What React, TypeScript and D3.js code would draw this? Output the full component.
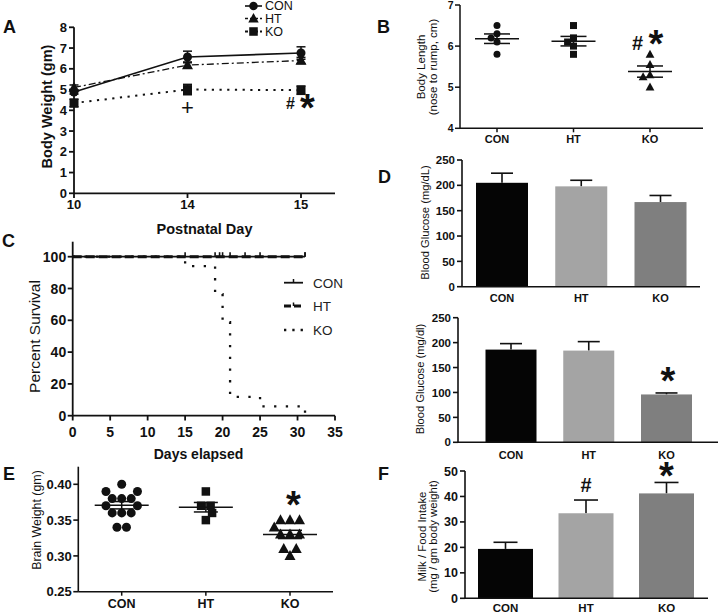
import React from "react";
import * as d3 from "d3";

const FONT = "'Liberation Sans', Arial, Helvetica, sans-serif";
const INK = "#111";

// ---------- Panel A : body weight ----------
const daysA = ["10", "14", "15"];
const conWeight = [4.88, 6.57, 6.76];
const conWeightErr = [0.1, 0.28, 0.3];
const htWeight = [5.1, 6.18, 6.4];
const htWeightErr = [0.12, 0.15, 0.15];
const koWeight = [4.35, 5.0, 4.97];
const koWeightErr = [0.18, 0.25, 0.2];
const weightTicks = [0, 1, 2, 3, 4, 5, 6, 7, 8];

// ---------- Panel B : body length ----------
const groups = ["CON", "HT", "KO"];
const conLength = [6.5, 6.3, 5.8, 6.2, 6.1];
const htLength = [6.5, 5.8, 6.2, 6.1, 6.0];
const koLength = [5.8, 5.0, 5.55, 5.3, 5.25];
const lengthTicks = [4, 5, 6, 7];

// ---------- Panel C : survival ----------
const survivalTicksX = [0, 5, 10, 15, 20, 25, 30, 35];
const survivalTicksY = [0, 20, 40, 60, 80, 100];
const conSurvival: [number, number][] = [[0, 100], [31, 100]];
const htSurvival: [number, number][] = [[0, 100], [31, 100]];
const koSurvival: [number, number][] = [[0, 100], [15, 94.1], [19, 76.5], [20, 58.8], [21, 11.8], [25, 5.9], [31, 0]];
const conCensor = [15, 19, 20, 21, 25, 31];
const htCensor = [19.6, 23, 31];

// ---------- Panel D : blood glucose ----------
const glucoseTicks = [0, 50, 100, 150, 200, 250];
const glucoseA = [205, 198, 167];
const glucoseAErr = [19, 12, 13];
const glucoseB = [186, 184, 96];
const glucoseBErr = [12, 18, 3];

// ---------- Panel E : brain weight ----------
const brainTicks = [0.25, 0.3, 0.35, 0.4];
const conBrain = [0.4, 0.38, 0.38, 0.38, 0.36, 0.36, 0.36, 0.34, 0.34, 0.39, 0.39, 0.37, 0.37];
const htBrain = [0.39, 0.37, 0.37, 0.36, 0.35];
const koBrain = [0.35, 0.35, 0.35, 0.33, 0.33, 0.33, 0.3, 0.31, 0.31, 0.34];

// ---------- Panel F : intake ----------
const intakeTicks = [0, 10, 20, 30, 40, 50];
const intake = [19.4, 33.4, 41.2];
const intakeErr = [2.6, 5.2, 4.3];

const barColors = ["#050505", "#a4a4a4", "#7f7f7f"];

// ---------- helpers ----------
function swarm(values: number[], y: (v: number) => number, D: number): number[] {
  const placed: { x: number; y: number }[] = [];
  const out: number[] = [];
  values.forEach((v) => {
    const yy = y(v);
    const cands = [0];
    placed.forEach((p) => {
      const dy = Math.abs(p.y - yy);
      if (dy < D) {
        const dx = Math.sqrt(D * D - dy * dy);
        cands.push(p.x - dx, p.x + dx);
      }
    });
    const ok = cands.filter((c) => placed.every((p) => Math.hypot(p.x - c, p.y - yy) >= D - 1e-6));
    ok.sort((a, b) => Math.abs(a) - Math.abs(b) || a - b);
    const x = ok[0];
    placed.push({ x, y: yy });
    out.push(x);
  });
  const rows = d3.group(values.map((v, i) => i), (i) => values[i]);
  rows.forEach((idx) => {
    if (idx.length > 1) {
      const m = d3.mean(idx, (i) => out[i]) as number;
      idx.forEach((i) => (out[i] -= m));
    }
  });
  return out;
}

function Marker({ shape, x, y, s }: { shape: string; x: number; y: number; s: number }) {
  if (shape === "circle") return <circle cx={x} cy={y} r={s / 2} fill={INK} />;
  if (shape === "square") return <rect x={x - s / 2} y={y - s / 2} width={s} height={s} fill={INK} />;
  return (
    <path
      d={`M${x},${y - s * 0.58}L${x + s * 0.55},${y + s * 0.42}L${x - s * 0.55},${y + s * 0.42}Z`}
      fill={INK}
    />
  );
}

function Sig({ x, cy, ch, size }: { x: number; cy: number; ch: string; size: number }) {
  const off = ch === "*" ? 0.45 : ch === "#" ? 0.35 : 0.36;
  return (
    <text x={x} y={cy + off * size} textAnchor="middle" fontSize={size} fontWeight={ch === "+" ? 400 : 700} fill={INK}>
      {ch}
    </text>
  );
}

function YAxis({
  x, y, ticks, fmt, yTop, fs, fw = 700, tick = 5, gap = 2, sw = 1.6,
}: {
  x: number; y: d3.ScaleLinear<number, number>; ticks: number[]; fmt?: (v: number) => string;
  yTop?: number; fs: number; fw?: number; tick?: number; gap?: number; sw?: number;
}) {
  const [b, t] = y.range();
  return (
    <g>
      <line x1={x} x2={x} y1={yTop ?? t} y2={b} stroke={INK} strokeWidth={sw} />
      {ticks.map((v) => (
        <g key={v}>
          <line x1={x - tick} x2={x} y1={y(v)} y2={y(v)} stroke={INK} strokeWidth={sw} />
          <text x={x - tick - gap} y={y(v) + fs * 0.36} textAnchor="end" fontSize={fs} fontWeight={fw} fill={INK}>
            {fmt ? fmt(v) : v}
          </text>
        </g>
      ))}
    </g>
  );
}

function YTitle({ x, y, lines, fs, fw = 400, lh }: { x: number; y: number; lines: string[]; fs: number; fw?: number; lh?: number }) {
  return (
    <text transform={`translate(${x},${y}) rotate(-90)`} textAnchor="middle" fontSize={fs} fontWeight={fw} fill={INK}>
      {lines.map((l, i) => (
        <tspan key={i} x={0} y={(i - (lines.length - 1) / 2) * (lh ?? fs * 1.1) + fs * 0.35}>
          {l}
        </tspan>
      ))}
    </text>
  );
}

function BarPanel({
  y, centers, values, errs, barW, x0, x1, ticks, tfs, labelY, lfs, capW,
}: {
  y: d3.ScaleLinear<number, number>; centers: d3.ScalePoint<string>; values: number[]; errs: number[];
  barW: number; x0: number; x1: number; ticks: number[]; tfs: number; labelY: number; lfs: number; capW: number;
}) {
  const base = y.range()[0];
  return (
    <g>
      {groups.map((g, i) => {
        const cx = centers(g) as number;
        return (
          <g key={g}>
            <line x1={cx} x2={cx} y1={y(values[i])} y2={y(values[i] + errs[i])} stroke={INK} strokeWidth={1.6} />
            <line x1={cx - capW / 2} x2={cx + capW / 2} y1={y(values[i] + errs[i])} y2={y(values[i] + errs[i])} stroke={INK} strokeWidth={1.6} />
            <rect x={cx - barW / 2} y={y(values[i])} width={barW} height={base - y(values[i])} fill={barColors[i]} />
            <text x={cx} y={labelY} textAnchor="middle" fontSize={lfs} fontWeight={700} fill={INK}>{g}</text>
          </g>
        );
      })}
      <YAxis x={x0} y={y} ticks={ticks} fs={tfs} />
      <line x1={x0} x2={x1} y1={base} y2={base} stroke={INK} strokeWidth={1.6} />
    </g>
  );
}

function ScatterPanel({
  y, centers, data, shapes, D, ms, meanW, semW, x0, x1, labelY, lfs,
}: {
  y: d3.ScaleLinear<number, number>; centers: d3.ScalePoint<string>; data: number[][]; shapes: string[];
  D: number; ms: number[]; meanW: number; semW: number; x0: number; x1: number; labelY: number; lfs: number;
}) {
  const base = y.range()[0];
  return (
    <g>
      {groups.map((g, i) => {
        const cx = centers(g) as number;
        const vals = data[i];
        const offs = swarm(vals, y, D);
        const m = d3.mean(vals) as number;
        const sem = (d3.deviation(vals) as number) / Math.sqrt(vals.length);
        return (
          <g key={g}>
            {vals.map((v, j) => (
              <Marker key={j} shape={shapes[i]} x={cx + offs[j]} y={y(v)} s={ms[i]} />
            ))}
            <line x1={cx - meanW} x2={cx + meanW} y1={y(m)} y2={y(m)} stroke={INK} strokeWidth={1.5} />
            <line x1={cx - semW} x2={cx + semW} y1={y(m + sem)} y2={y(m + sem)} stroke={INK} strokeWidth={1.5} />
            <line x1={cx - semW} x2={cx + semW} y1={y(m - sem)} y2={y(m - sem)} stroke={INK} strokeWidth={1.5} />
            <line x1={cx} x2={cx} y1={y(m + sem)} y2={y(m - sem)} stroke={INK} strokeWidth={1.5} />
            <line x1={cx} x2={cx} y1={base} y2={base + 4} stroke={INK} strokeWidth={1.5} />
            <text x={cx} y={labelY} textAnchor="middle" fontSize={lfs} fontWeight={700} fill={INK}>{g}</text>
          </g>
        );
      })}
      <line x1={x0} x2={x1} y1={base} y2={base} stroke={INK} strokeWidth={1.6} />
    </g>
  );
}

export default function App() {
  const xA = d3.scalePoint<string>().domain(daysA).range([74, 301]);
  const yA = d3.scaleLinear().domain([0, 8]).range([193.3, 27.3]);
  const seriesA = [
    { name: "CON", vals: conWeight, errs: conWeightErr, shape: "circle", s: 9, dash: undefined as string | undefined, w: 1.6 },
    { name: "HT", vals: htWeight, errs: htWeightErr, shape: "triangle", s: 10, dash: "7,3,2,3", w: 1.3 },
    { name: "KO", vals: koWeight, errs: koWeightErr, shape: "square", s: 9, dash: "2.2,5.5", w: 2 },
  ];
  const lineA = d3.line<number>().x((_, i) => xA(daysA[i]) as number).y((d) => yA(d));
  const legendA = [6, 18.5, 31.5];

  const xB = d3.scalePoint<string>().domain(groups).range([497, 650]);
  const yB = d3.scaleLinear().domain([4, 7]).range([128.3, 5]);

  const xC = d3.scaleLinear().domain([0, 35]).range([72.7, 335]);
  const yC = d3.scaleLinear().domain([0, 100]).range([415.7, 256.7]);
  const stepLine = d3.line<[number, number]>().x((d) => xC(d[0])).y((d) => yC(d[1])).curve(d3.curveStepAfter);

  const xD = d3.scalePoint<string>().domain(groups).range([502, 660.5]);
  const yD = d3.scaleLinear().domain([0, 250]).range([286.7, 160]);
  const xD2 = d3.scalePoint<string>().domain(groups).range([511, 666.5]);
  const yD2 = d3.scaleLinear().domain([0, 250]).range([442.3, 317.7]);

  const xE = d3.scalePoint<string>().domain(groups).range([121.7, 290]);
  const yE = d3.scaleLinear().domain([0.25, 0.4]).range([591.7, 484.3]);

  const xF = d3.scalePoint<string>().domain(groups).range([505.5, 666.5]);
  const yF = d3.scaleLinear().domain([0, 50]).range([598.3, 471]);

  return (
    <div style={{ position: "absolute", left: 0, top: 0, width: 720, height: 614, background: "#fff" }}>
      <svg width={720} height={614} style={{ display: "block", fontFamily: FONT }}>
        <rect width={720} height={614} fill="#fff" />

        {[
          ["A", 3, 33], ["B", 377, 33], ["C", 2, 247], ["D", 378, 183], ["E", 3, 480], ["F", 378, 480],
        ].map(([t, x, y]) => (
          <text key={t as string} x={x as number} y={y as number} fontSize={18} fontWeight={700} fill={INK}>{t}</text>
        ))}

        {/* ===== Panel A ===== */}
        <g>
          {seriesA.map((s) => (
            <g key={s.name}>
              <path d={lineA(s.vals) as string} fill="none" stroke={INK} strokeWidth={s.w} strokeDasharray={s.dash} />
              {s.vals.map((v, i) => {
                const cx = xA(daysA[i]) as number;
                return (
                  <g key={i}>
                    <line x1={cx} x2={cx} y1={yA(v - s.errs[i])} y2={yA(v + s.errs[i])} stroke={INK} strokeWidth={1.5} />
                    <line x1={cx - 4.5} x2={cx + 4.5} y1={yA(v + s.errs[i])} y2={yA(v + s.errs[i])} stroke={INK} strokeWidth={1.5} />
                    <line x1={cx - 4.5} x2={cx + 4.5} y1={yA(v - s.errs[i])} y2={yA(v - s.errs[i])} stroke={INK} strokeWidth={1.5} />
                    <Marker shape={s.shape} x={cx} y={yA(v)} s={s.s} />
                  </g>
                );
              })}
            </g>
          ))}
          <YAxis x={74} y={yA} ticks={weightTicks} fs={13} tick={5} gap={2} sw={1.8} />
          <line x1={74} x2={335} y1={193.3} y2={193.3} stroke={INK} strokeWidth={1.8} />
          {daysA.map((d) => (
            <g key={d}>
              <line x1={xA(d)} x2={xA(d)} y1={193.3} y2={198} stroke={INK} strokeWidth={1.8} />
              <text x={xA(d)} y={208.5} textAnchor="middle" fontSize={13} fontWeight={700} fill={INK}>{d}</text>
            </g>
          ))}
          <text x={204.5} y={234} textAnchor="middle" fontSize={14.5} fontWeight={700} fill={INK}>Postnatal Day</text>
          <YTitle x={47} y={106.5} lines={["Body Weight (gm)"]} fs={14.5} fw={700} />
          {seriesA.map((s, i) => (
            <g key={s.name}>
              <line x1={245} x2={262} y1={legendA[i]} y2={legendA[i]} stroke={INK} strokeWidth={s.w} strokeDasharray={s.dash ? "3,2" : undefined} />
              <Marker shape={s.shape} x={253.5} y={legendA[i]} s={s.s * 0.95} />
              <text x={265} y={legendA[i] + 4.4} fontSize={12.5} fill={INK}>{s.name}</text>
            </g>
          ))}
          <Sig x={xA("14") as number} cy={107.5} ch="+" size={22} />
          <Sig x={290.5} cy={103.5} ch="#" size={16} />
          <Sig x={307.5} cy={103.5} ch="*" size={38} />
        </g>

        {/* ===== Panel B ===== */}
        <g>
          <ScatterPanel
            y={yB} centers={xB} data={[conLength, htLength, koLength]} shapes={["circle", "square", "triangle"]}
            D={7.2} ms={[7, 7, 8]} meanW={22} semW={13} x0={460} x1={703} labelY={142.5} lfs={11}
          />
          <YAxis x={460} y={yB} ticks={lengthTicks} fs={10.5} tick={5} gap={1.5} sw={1.5} />
          <YTitle x={427} y={67} lines={["Body Length", "(nose to rump, cm)"]} fs={11.5} lh={11.5} />
          <Sig x={637.5} cy={42.5} ch="#" size={20} />
          <Sig x={656} cy={40} ch="*" size={38} />
        </g>

        {/* ===== Panel C ===== */}
        <g>
          <path d={stepLine(conSurvival) as string} fill="none" stroke={INK} strokeWidth={1.8} />
          <path d={stepLine(htSurvival) as string} fill="none" stroke={INK} strokeWidth={3} strokeDasharray="9,4" />
          <path d={stepLine(koSurvival) as string} fill="none" stroke={INK} strokeWidth={2.3} strokeDasharray="2.3,9.4" />
          {conCensor.concat(htCensor).map((d, i) => (
            <line key={i} x1={xC(d)} x2={xC(d)} y1={yC(100) - 4.5} y2={yC(100)} stroke={INK} strokeWidth={1.6} />
          ))}
          <YAxis x={72.7} y={yC} ticks={survivalTicksY} fs={14} tick={5} gap={1.5} yTop={241.7} sw={1.8} />
          <line x1={72.7} x2={335} y1={415.7} y2={415.7} stroke={INK} strokeWidth={1.8} />
          {survivalTicksX.map((d) => (
            <g key={d}>
              <line x1={xC(d)} x2={xC(d)} y1={415.7} y2={420.5} stroke={INK} strokeWidth={1.8} />
              <text x={xC(d)} y={437} textAnchor="middle" fontSize={14} fontWeight={700} fill={INK}>{d}</text>
            </g>
          ))}
          <text x={198.5} y={459} textAnchor="middle" fontSize={14} fontWeight={700} fill={INK}>Days elapsed</text>
          <YTitle x={35} y={336.5} lines={["Percent Survival"]} fs={15.5} fw={400} />
          <line x1={284} x2={303} y1={282.7} y2={282.7} stroke={INK} strokeWidth={1.8} />
          <line x1={293.5} x2={293.5} y1={279} y2={282.7} stroke={INK} strokeWidth={1.5} />
          <text x={313} y={287.5} fontSize={13.5} fill="#222">CON</text>
          <line x1={284} x2={303} y1={306} y2={306} stroke={INK} strokeWidth={3} strokeDasharray="7,3" />
          <line x1={293.5} x2={293.5} y1={302.5} y2={306} stroke={INK} strokeWidth={1.5} />
          <text x={313} y={311} fontSize={13.5} fill="#222">HT</text>
          <line x1={284} x2={303} y1={330} y2={330} stroke={INK} strokeWidth={2.3} strokeDasharray="2.3,6" />
          <text x={313} y={335} fontSize={13.5} fill="#222">KO</text>
        </g>

        {/* ===== Panel D (top) ===== */}
        <g>
          <BarPanel y={yD} centers={xD} values={glucoseA} errs={glucoseAErr} barW={52} x0={462} x1={700}
            ticks={glucoseTicks} tfs={11.5} labelY={302} lfs={11} capW={22} />
          <YTitle x={425} y={222.5} lines={["Blood Glucose (mg/dL)"]} fs={11.2} />
        </g>

        {/* ===== Panel D (bottom) ===== */}
        <g>
          <BarPanel y={yD2} centers={xD2} values={glucoseB} errs={glucoseBErr} barW={51} x0={458} x1={718}
            ticks={glucoseTicks} tfs={11.5} labelY={458.5} lfs={11} capW={22} />
          <YTitle x={420} y={379} lines={["Blood Glucose (mg/dl)"]} fs={11.2} />
          <Sig x={668} cy={377} ch="*" size={38} />
        </g>

        {/* ===== Panel E ===== */}
        <g>
          <ScatterPanel
            y={yE} centers={xE} data={[conBrain, htBrain, koBrain]} shapes={["circle", "square", "triangle"]}
            D={9.5} ms={[9, 8.5, 10]} meanW={27} semW={12} x0={78.3} x1={333} labelY={608} lfs={12.5}
          />
          <YAxis x={78.3} y={yE} ticks={brainTicks} fmt={d3.format(".2f")} fs={13} tick={5} gap={1.5} yTop={466.7} sw={1.6} />
          <YTitle x={37} y={520} lines={["Brain Weight (gm)"]} fs={12.4} />
          <Sig x={293.5} cy={501} ch="*" size={38} />
        </g>

        {/* ===== Panel F ===== */}
        <g>
          <BarPanel y={yF} centers={xF} values={intake} errs={intakeErr} barW={55} x0={465} x1={708}
            ticks={intakeTicks} tfs={12.5} labelY={612} lfs={11.5} capW={24} />
          <YTitle x={427.5} y={536.5} lines={["Milk / Food Intake", "(mg / gm body weight)"]} fs={11.4} lh={11.5} />
          <Sig x={586} cy={485} ch="#" size={20} />
          <Sig x={666.5} cy={471.5} ch="*" size={38} />
        </g>
      </svg>
    </div>
  );
}
